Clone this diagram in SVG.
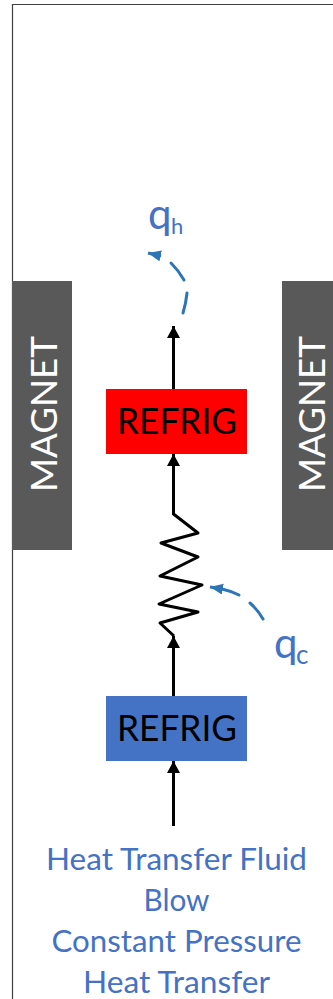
<svg xmlns="http://www.w3.org/2000/svg" width="333" height="999" viewBox="0 0 333 999">
<style>
text{font-family:"Lato","Open Sans",sans-serif}
.mag{fill:#595959}
.magt{fill:#fff;font-size:37.5px}
.ref{font-size:37.5px;fill:#000}
.blue{fill:#4472c4}
.q{font-size:42px}
.cap{fill:#4472c4;font-size:30px;text-anchor:middle}
.flow{fill:none;stroke:#000;stroke-width:3}
.heat{fill:none;stroke:#2e75b6;stroke-width:3}
</style>
<defs>
<marker id="ah" markerUnits="userSpaceOnUse" markerWidth="12" markerHeight="13" refX="12" refY="6.500" orient="auto"><path d="M0 0L12 6.500L0 13Z" fill="#000"/></marker>
<marker id="bh" markerUnits="userSpaceOnUse" markerWidth="13" markerHeight="12" refX="13" refY="5.500" orient="auto"><path d="M0 0L13 5.500L0 11Z" fill="#2e75b6"/></marker>
</defs>
<rect width="333" height="999" fill="#fff"/>
<path id="frame" d="M12.500 999V4.500H333" fill="none" stroke="#404040" stroke-width="1.200"/>
<g id="connectors">
<path class="flow" marker-end="url(#ah)" d="M173.500 389V326"/>
<path class="flow" marker-end="url(#ah)" d="M173.500 515V454"/>
<path class="flow" marker-end="url(#ah)" d="M173.500 696V636"/>
<path class="flow" marker-end="url(#ah)" d="M173.500 826V761"/>
<path class="flow" stroke-linejoin="round" d="M173.500 514L198 533L161 543L198 557L160 576L202 585L159 604L198 612L160 623L174 636"/>
<path class="heat" stroke-linecap="round" d="M183 313Q186 303 187 293"/>
<path class="heat" stroke-linecap="round" d="M184 280Q179 271 171 263"/>
<path class="heat" marker-end="url(#bh)" d="M161 256L148 253"/>
<path class="heat" stroke-linecap="round" d="M263 619Q258 610 250 603"/>
<path class="heat" stroke-linecap="round" d="M239 595Q231 591 222 589"/>
<path class="heat" marker-end="url(#bh)" d="M222 589L210 587"/>
</g>
<g id="magnet-left"><rect class="mag" x="12" y="281" width="60" height="269"/><text class="magt" transform="translate(57 492) rotate(-90)" textLength="156" lengthAdjust="spacingAndGlyphs">MAGNET</text></g>
<g id="magnet-right"><rect class="mag" x="282" y="281" width="51" height="269"/><text class="magt" transform="translate(325 492) rotate(-90)" textLength="156" lengthAdjust="spacingAndGlyphs">MAGNET</text></g>
<g id="refrig-hot"><rect x="106" y="389" width="141" height="65" fill="#f00"/><text class="ref" x="117" y="434" textLength="120" lengthAdjust="spacingAndGlyphs">REFRIG</text></g>
<g id="refrig-cold"><rect class="blue" x="106" y="696" width="141" height="65"/><text class="ref" x="117" y="741" textLength="120" lengthAdjust="spacingAndGlyphs">REFRIG</text></g>
<g id="qh"><text class="blue q" x="148" y="229">q<tspan font-size="22" x="171" y="234">h</tspan></text></g>
<g id="qc"><text class="blue q" x="274" y="658">q<tspan font-size="26" x="296" y="664">c</tspan></text></g>
<g id="caption">
<text class="cap" x="176.500" y="870" textLength="261" lengthAdjust="spacingAndGlyphs">Heat Transfer Fluid</text>
<text class="cap" x="176.500" y="911" textLength="66" lengthAdjust="spacingAndGlyphs">Blow</text>
<text class="cap" x="176.500" y="952" textLength="250" lengthAdjust="spacingAndGlyphs">Constant Pressure</text>
<text class="cap" x="176.500" y="993" textLength="187" lengthAdjust="spacingAndGlyphs">Heat Transfer</text>
</g>
</svg>
